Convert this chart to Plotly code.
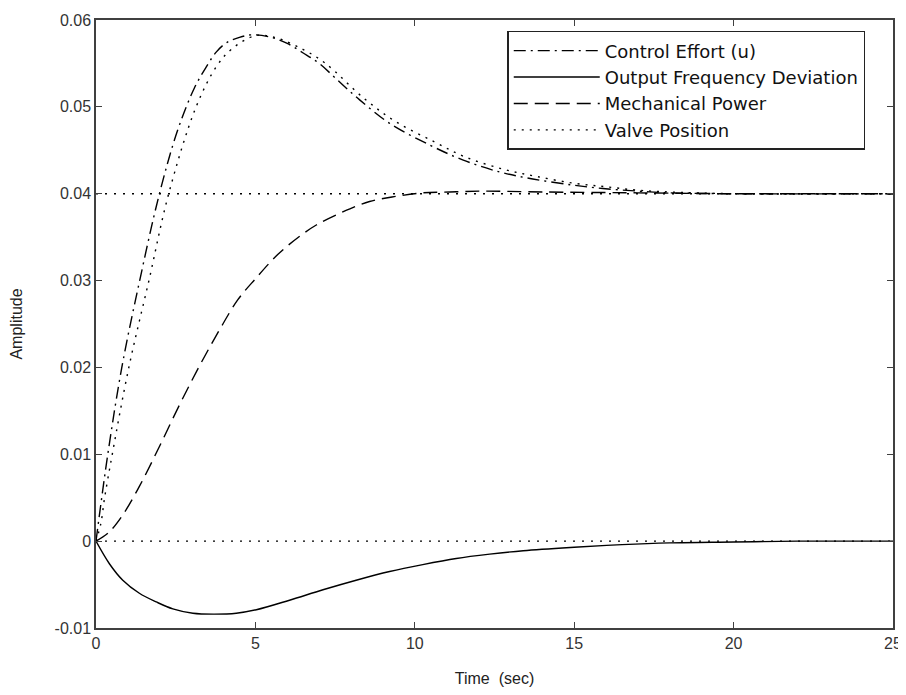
import plotly.graph_objects as go

# ---- data ----
t_ctrl = [0, 0.37, 0.81, 1.37, 1.99, 2.56, 3.09, 3.46, 3.77, 4.1, 4.5, 4.9, 5.5, 6.0, 6.5, 7.0, 7.6, 8.27, 9.21, 10.47, 11.5, 12.66, 13.7, 14.95, 15.9, 17, 18, 20, 25]
ctrl = [0, 0.010, 0.020, 0.030, 0.040, 0.0473, 0.0522, 0.0546, 0.0563, 0.0574, 0.0580, 0.0583, 0.0580, 0.0573, 0.0562, 0.0550, 0.0530, 0.0508, 0.0481, 0.0456, 0.0439, 0.0425, 0.0417, 0.0410, 0.0406, 0.0403, 0.0401, 0.0400, 0.0400]

t_freq = [0, 0.42, 0.84, 1.36, 1.89, 2.41, 3.04, 3.7, 4.4, 5.03, 6.07, 7.12, 8.16, 9.21, 10.25, 11.3, 12.35, 13.4, 15, 16.5, 18, 20, 22, 25]
freq = [0, -0.0026, -0.0045, -0.0060, -0.0070, -0.0078, -0.0083, -0.0084, -0.0083, -0.0079, -0.0068, -0.0056, -0.0045, -0.0035, -0.0027, -0.0020, -0.0015, -0.0011, -0.0007, -0.0004, -0.0002, -0.0001, 0, 0]

t_mech = [0, 0.4, 0.8, 1.36, 1.99, 2.62, 3.25, 3.87, 4.45, 5.0, 5.7, 6.39, 6.91, 7.74, 8.58, 9.42, 10.25, 11.1, 12.1, 14, 17, 20, 25]
mech = [0, 0.0010, 0.0028, 0.0063, 0.0109, 0.0157, 0.0202, 0.0243, 0.0278, 0.0302, 0.0330, 0.0351, 0.0364, 0.0379, 0.0391, 0.0397, 0.0401, 0.0402, 0.0403, 0.0402, 0.0401, 0.0400, 0.0400]

t_valve = [0, 0.15, 0.27, 0.51, 1.03, 1.66, 2.28, 3.14, 3.77, 4.24, 5.0, 5.6, 6.5, 7.2, 8.4, 9.4, 10.6, 11.6, 12.8, 13.8, 15.0, 16, 17, 18, 20, 25]
valve = [0, 0.002, 0.005, 0.010, 0.020, 0.030, 0.040, 0.050, 0.0546, 0.0566, 0.0582, 0.0580, 0.0566, 0.0550, 0.0510, 0.0483, 0.0460, 0.0442, 0.0428, 0.0420, 0.0412, 0.0408, 0.0404, 0.0402, 0.0400, 0.0400]

steady_t = [0, 25]
steady_levels = [0.04, 0.0]

x_ticks = [0, 5, 10, 15, 20, 25]
y_ticks = [-0.01, 0, 0.01, 0.02, 0.03, 0.04, 0.05, 0.06]
y_tick_labels = ["-0.01", "0", "0.01", "0.02", "0.03", "0.04", "0.05", "0.06"]

names = ["Control Effort (u)", "Output Frequency Deviation", "Mechanical Power", "Valve Position"]

FONT = "Liberation Sans, Arial, sans-serif"
LEG_FONT = "DejaVu Sans, sans-serif"
LW = 1.4

fig = go.Figure()

for lvl in steady_levels:
    fig.add_trace(go.Scatter(x=steady_t, y=[lvl, lvl], mode="lines", showlegend=False,
                             hoverinfo="skip",
                             line=dict(color="black", width=LW, dash="2px,7px")))

fig.add_trace(go.Scatter(x=t_ctrl, y=ctrl, mode="lines", name=names[0],
                         line=dict(color="black", width=LW, dash="12px,5px,2px,5px", shape="spline")))
fig.add_trace(go.Scatter(x=t_freq, y=freq, mode="lines", name=names[1],
                         line=dict(color="black", width=LW, shape="spline")))
fig.add_trace(go.Scatter(x=t_mech, y=mech, mode="lines", name=names[2],
                         line=dict(color="black", width=LW, dash="14px,7px", shape="spline")))
fig.add_trace(go.Scatter(x=t_valve, y=valve, mode="lines", name=names[3],
                         line=dict(color="black", width=LW, dash="2px,6px", shape="spline")))

axis_common = dict(
    showline=True, linecolor="#404040", linewidth=1.5, mirror="ticks",
    ticks="inside", ticklen=6, tickcolor="#404040", tickwidth=1,
    showgrid=False, zeroline=False, automargin=False,
    tickfont=dict(family=FONT, size=16, color="#333333"),
)

# the page body adds an 8px offset; sizes/margins compensate for it
fig.update_layout(
    width=898, height=687,
    paper_bgcolor="white", plot_bgcolor="white",
    margin=dict(l=88, r=13, t=12, b=67),
    font=dict(family=FONT, size=16, color="#222222"),
    xaxis=dict(range=[0, 25], tickvals=x_ticks, ticktext=[str(v) for v in x_ticks],
               title=dict(text="Time  (sec)", font=dict(family=FONT, size=16, color="#222222"), standoff=22),
               **axis_common),
    yaxis=dict(range=[-0.01, 0.06], tickvals=y_ticks, ticktext=y_tick_labels,
               title=dict(text="Amplitude", font=dict(family=FONT, size=16, color="#222222"), standoff=28),
               **axis_common),
    legend=dict(x=0.516, y=0.982, xanchor="left", yanchor="top",
                bgcolor="white", bordercolor="#222222", borderwidth=1.5,
                font=dict(family=LEG_FONT, size=18, color="#111111"),
                itemwidth=86, tracegroupgap=0),
    showlegend=True,
)

fig.write_html("out.html")
